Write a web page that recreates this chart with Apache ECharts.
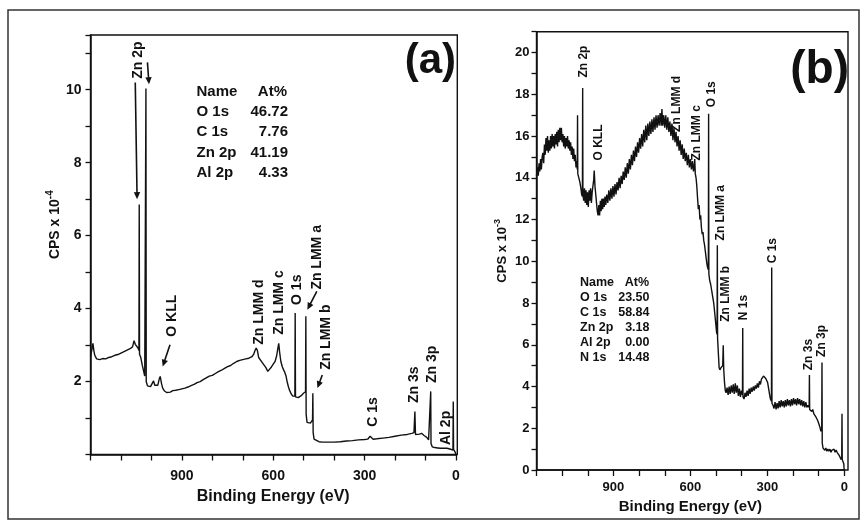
<!DOCTYPE html>
<html>
<head>
<meta charset="utf-8">
<script src="https://cdn.jsdelivr.net/npm/echarts@6/dist/echarts.min.js"></script>
<style>
html, body { margin: 0; padding: 0; background: #fff; }
#main { width: 865px; height: 524px; }
</style>
</head>
<body>
<div id="main"></div>
<script>
const FONT = "'Liberation Sans Narrow', 'Liberation Sans', Arial, sans-serif";
const INK = '#111';

// Spectrum (a): [binding energy eV, CPS x 1e-4]
const specA = [
	[1200, 2.70], [1196, 2.85], [1192, 3.05], [1189, 2.85], [1186, 2.72], [1180, 2.62], [1170, 2.60], [1160, 2.63],
	[1150, 2.62], [1140, 2.66], [1130, 2.68], [1120, 2.72], [1110, 2.74], [1100, 2.78], [1090, 2.82], [1080, 2.86],
	[1070, 2.90], [1062, 2.95], [1057, 3.12], [1053, 3.02], [1048, 3.00], [1044, 2.92], [1041, 2.85], [1040, 6.85],
	[1039, 2.75], [1035, 2.66], [1030, 2.45], [1026, 2.30], [1022, 2.15], [1019, 2.10], [1018, 10.03], [1017, 2.0],
	[1013, 1.88], [1008, 1.85], [1003, 1.86], [998, 1.85], [993, 2.02], [989, 1.90], [984, 1.86], [979, 1.90],
	[974, 2.08], [971, 2.14], [967, 1.95], [963, 1.82], [957, 1.74], [950, 1.70], [944, 1.73], [938, 1.71],
	[930, 1.75], [920, 1.76], [910, 1.78], [900, 1.80], [890, 1.82], [880, 1.85], [870, 1.89], [860, 1.92],
	[850, 1.97], [840, 2.00], [830, 2.05], [820, 2.10], [810, 2.15], [800, 2.17], [790, 2.22], [780, 2.27],
	[770, 2.31], [760, 2.36], [750, 2.41], [740, 2.44], [730, 2.50], [720, 2.55], [710, 2.58], [700, 2.60],
	[690, 2.62], [680, 2.64], [670, 2.68], [664, 2.75], [660, 2.85], [656, 2.92], [652, 2.85], [648, 2.66],
	[642, 2.62], [636, 2.52], [630, 2.48], [624, 2.38], [618, 2.28], [612, 2.32], [606, 2.40], [600, 2.45],
	[594, 2.55], [589, 2.70], [585, 2.90], [582, 3.05], [579, 2.80], [575, 2.55], [570, 2.40], [566, 2.32],
	[562, 2.25], [558, 2.15], [554, 1.98], [550, 1.85], [546, 1.75], [541, 1.66], [536, 1.60], [531, 1.58],
	[529, 1.60], [528, 3.88], [527, 1.58], [523, 1.57], [518, 1.56], [512, 1.60], [507, 1.62], [501, 1.68],
	[496, 1.70], [494, 1.72], [493, 3.79], [492, 1.10], [489, 0.88], [484, 0.86], [478, 0.86], [472, 0.87],
	[471, 0.95], [470, 1.68], [469, 0.60], [466, 0.42], [460, 0.37], [450, 0.35], [440, 0.34], [420, 0.34],
	[400, 0.34], [380, 0.35], [360, 0.37], [340, 0.38], [320, 0.40], [300, 0.41], [290, 0.42], [285, 0.45],
	[282, 0.50], [279, 0.45], [272, 0.42], [260, 0.43], [240, 0.45], [220, 0.47], [200, 0.50], [180, 0.53],
	[160, 0.55], [145, 0.58], [138, 0.60], [135, 1.18], [133, 0.55], [128, 0.54], [120, 0.56], [113, 0.58],
	[105, 0.52], [96, 0.47], [90, 0.40], [84, 0.40], [83, 1.73], [82, 0.30], [78, 0.21], [70, 0.19],
	[60, 0.18], [50, 0.17], [40, 0.17], [30, 0.17], [20, 0.15], [14, 0.10], [10, 0.12], [9, 1.45],
	[8, 0.14], [5, 0.12], [2, 0.05], [0, 0.0]
];

// Spectrum (b): [binding energy eV, CPS x 1e-3]
const specB = [
	[1200, 14.1], [1196, 14.5], [1193, 14.1], [1190, 14.7], [1187, 14.3], [1184, 14.9], [1181, 14.4], [1178, 15.0],
	[1175, 15.2], [1172, 14.7], [1169, 15.6], [1166, 15.1], [1163, 15.9], [1160, 15.3], [1157, 16.0], [1154, 15.2],
	[1151, 15.8], [1148, 15.3], [1145, 16.0], [1142, 15.4], [1139, 16.1], [1136, 15.5], [1133, 16.0], [1130, 15.4],
	[1127, 16.1], [1124, 15.6], [1121, 16.2], [1118, 15.5], [1115, 16.3], [1112, 15.7], [1109, 16.4], [1106, 15.8],
	[1103, 16.4], [1100, 15.7], [1097, 16.1], [1094, 15.5], [1091, 16.0], [1088, 15.4], [1085, 15.9], [1082, 15.5],
	[1079, 16.0], [1076, 15.4], [1073, 15.8], [1070, 15.3], [1067, 15.7], [1064, 15.1], [1061, 15.5], [1058, 14.9],
	[1055, 15.4], [1052, 14.8], [1049, 15.1], [1046, 14.5], [1043, 14.8], [1041, 14.4], [1040, 17.0], [1039, 14.2],
	[1035, 14.0], [1031, 13.8], [1027, 13.5], [1024, 13.2], [1021, 13.1], [1020, 18.3], [1019, 13.2], [1016, 12.9],
	[1013, 13.5], [1010, 12.8], [1007, 13.4], [1004, 12.7], [1001, 13.3], [998, 12.6], [995, 13.4], [992, 12.9],
	[989, 13.5], [986, 12.8], [983, 13.3], [980, 13.6], [977, 13.9], [975, 14.35], [972, 13.6], [969, 13.2],
	[966, 12.8], [963, 12.4], [960, 12.2], [957, 12.7], [954, 12.2], [951, 12.9], [948, 12.4], [945, 13.0],
	[942, 12.5], [939, 13.0], [936, 12.6], [933, 13.1], [930, 12.7], [926, 13.2], [922, 12.8], [918, 13.4],
	[914, 12.9], [910, 13.5], [906, 13.0], [902, 13.6], [898, 13.1], [894, 13.7], [890, 13.2], [886, 13.8],
	[882, 13.4], [878, 14.0], [874, 13.5], [870, 14.1], [866, 13.7], [862, 14.3], [858, 13.9], [854, 14.5],
	[850, 14.0], [846, 14.7], [842, 14.2], [838, 14.9], [834, 14.4], [830, 15.1], [826, 14.6], [822, 15.3],
	[818, 14.8], [814, 15.5], [810, 15.0], [806, 15.7], [802, 15.2], [798, 15.9], [794, 15.4], [790, 16.1],
	[786, 15.5], [782, 16.3], [778, 15.7], [774, 16.5], [770, 15.8], [766, 16.6], [762, 16.0], [758, 16.7],
	[754, 16.1], [750, 16.8], [746, 16.2], [742, 16.9], [738, 16.3], [734, 17.0], [730, 16.4], [726, 17.0],
	[722, 16.5], [718, 17.1], [714, 16.5], [711, 17.3], [708, 16.5], [704, 17.0], [700, 16.4], [696, 17.0],
	[692, 16.3], [688, 16.9], [684, 16.2], [680, 16.7], [676, 16.0], [672, 16.6], [668, 15.8], [664, 16.4],
	[660, 15.7], [656, 16.2], [652, 15.5], [648, 16.0], [644, 15.3], [640, 15.8], [636, 15.1], [632, 15.6],
	[628, 14.9], [624, 15.4], [620, 14.8], [616, 15.2], [612, 14.6], [608, 15.1], [604, 14.5], [600, 14.9],
	[596, 14.4], [592, 14.8], [588, 14.3], [585, 14.6], [583, 14.9], [581, 14.2], [578, 14.0], [575, 13.6],
	[572, 13.0], [569, 12.5], [566, 12.7], [563, 12.0], [560, 12.2], [557, 11.6], [554, 11.3], [551, 11.4],
	[548, 11.0], [545, 10.8], [542, 10.5], [539, 10.2], [536, 9.9], [533, 9.7], [530, 9.6], [529, 17.07],
	[528, 9.4], [525, 9.1], [521, 8.9], [517, 8.6], [513, 8.3], [509, 8.0], [505, 7.5], [501, 7.0],
	[498, 6.6], [496, 6.5], [495, 10.77], [494, 6.3], [491, 5.6], [488, 4.9], [485, 4.8], [481, 4.9],
	[477, 4.95], [474, 5.0], [472, 5.98], [470, 4.8], [467, 4.2], [464, 3.8], [461, 3.7], [457, 3.95],
	[453, 3.6], [449, 4.0], [445, 3.65], [441, 4.05], [437, 3.7], [433, 4.1], [429, 3.65], [425, 4.15],
	[421, 3.7], [417, 4.05], [413, 3.55], [409, 3.9], [405, 3.5], [401, 3.8], [397, 3.6], [396, 6.8],
	[395, 3.5], [391, 3.4], [387, 3.7], [383, 3.5], [379, 3.8], [375, 3.55], [371, 3.9], [367, 3.65],
	[363, 3.95], [359, 3.75], [355, 4.0], [351, 3.8], [347, 4.05], [343, 3.9], [339, 4.15], [335, 3.95],
	[331, 4.25], [327, 4.1], [323, 4.35], [319, 4.3], [315, 4.5], [311, 4.5], [307, 4.4], [303, 4.3],
	[299, 4.2], [295, 3.9], [291, 3.6], [288, 3.4], [284, 3.3], [283, 9.7], [282, 3.2], [278, 3.1],
	[274, 2.95], [270, 3.25], [266, 2.9], [262, 3.2], [258, 2.95], [254, 3.3], [250, 3.0], [246, 3.35],
	[242, 3.05], [238, 3.3], [234, 3.0], [230, 3.35], [226, 3.05], [222, 3.4], [218, 3.1], [214, 3.35],
	[210, 3.05], [206, 3.4], [202, 3.1], [198, 3.45], [194, 3.15], [190, 3.4], [186, 3.1], [182, 3.45],
	[178, 3.15], [174, 3.4], [170, 3.1], [166, 3.35], [162, 3.05], [158, 3.3], [154, 3.0], [150, 3.25],
	[146, 3.0], [142, 3.1], [137, 3.0], [136, 4.55], [135, 2.9], [131, 2.95], [127, 2.8], [123, 2.9],
	[119, 2.7], [115, 2.75], [111, 2.55], [107, 2.6], [103, 2.35], [99, 2.2], [95, 2.05], [91, 1.85],
	[88, 2.0], [87, 5.15], [86, 1.3], [83, 1.05], [80, 1.0], [76, 0.95], [72, 1.05], [68, 0.9],
	[64, 1.0], [60, 0.9], [56, 1.0], [52, 0.85], [48, 0.95], [44, 0.9], [40, 1.0], [36, 0.85],
	[32, 0.95], [28, 0.85], [24, 0.9], [20, 0.7], [16, 0.6], [13, 0.5], [11, 0.45], [10, 0.6],
	[9, 2.7], [8, 0.5], [5, 0.4], [2, 0.3], [1, 0.1], [0, 0.0]
];

// Peak labels: [text, energy, value at text bottom]
const peaksA = [
	['Zn 2p', 1045, 10.3], ['O KLL', 933, 3.23], ['Zn LMM d', 646, 3.01], ['Zn LMM c', 581, 3.28],
	['O 1s', 520, 4.1], ['Zn LMM a', 457, 4.52], ['Zn LMM b', 427, 2.32], ['C 1s', 271, 0.76],
	['Zn 3s', 138, 1.41], ['Zn 3p', 77, 1.96], ['Al 2p', 33, 0.26]
];
const peaksB = [
	['Zn 2p', 1016, 18.8], ['O KLL', 958, 14.83], ['Zn LMM d', 653, 16.2], ['Zn LMM c', 575, 14.83],
	['O 1s', 517, 17.38], ['Zn LMM a', 481, 11.0], ['Zn LMM b', 463, 7.1], ['N 1s', 391, 7.18],
	['C 1s', 280, 9.9], ['Zn 3s', 140, 4.78], ['Zn 3p', 88, 5.42]
];
// Arrows in panel (a): [fromE, fromV, toE, toV]
const arrowsA = [
	[1053, 10.2, 1047, 7.0], [1013, 10.75, 1008, 10.15], [939, 3.01, 963, 2.41],
	[457, 4.47, 488, 3.97], [439, 2.18, 455, 1.82]
];

// Composition tables
const tableNamesA = ['O 1s', 'C 1s', 'Zn 2p', 'Al 2p'];
const tableValuesA = ['46.72', '7.76', '41.19', '4.33'];
const tableNamesB = ['O 1s', 'C 1s', 'Zn 2p', 'Al 2p', 'N 1s'];
const tableValuesB = ['23.50', '58.84', '3.18', '0.00', '14.48'];

const yLabelsA = [2, 4, 6, 8, 10];

const chart = echarts.init(document.getElementById('main'), null, { renderer: 'canvas' });

function energyAxis(gridIndex, labelSize, nameSize, nameGap, margin) {
	return {
		gridIndex: gridIndex, type: 'value', inverse: true, min: 0, max: 1200, interval: 100, position: 'bottom',
		axisLine: { show: true, onZero: false, lineStyle: { color: INK, width: 1.5 } },
		axisTick: { show: true, length: 6, lineStyle: { color: INK, width: 1.3 } },
		axisLabel: {
			show: true, color: INK, fontFamily: FONT, fontWeight: 'bold', fontSize: labelSize, margin: margin,
			formatter: function (v) { return v % 300 === 0 && v < 1200 ? String(v) : ''; }
		},
		splitLine: { show: false },
		name: 'Binding Energy (eV)', nameLocation: 'middle', nameGap: nameGap,
		nameTextStyle: { color: INK, fontFamily: FONT, fontWeight: 'bold', fontSize: nameSize }
	};
}

function cpsAxis(gridIndex, max, labelSize, margin, labelOpt) {
	return {
		gridIndex: gridIndex, type: 'value', min: 0, max: max, interval: 1, position: 'left',
		axisLine: { show: true, onZero: false, lineStyle: { color: INK, width: 1.5 } },
		axisTick: { show: true, length: 5, lineStyle: { color: INK, width: 1.3 } },
		axisLabel: Object.assign({ color: INK, fontFamily: FONT, fontWeight: 'bold', fontSize: labelSize, margin: margin }, labelOpt),
		splitLine: { show: false }
	};
}

const option = {
	animation: false,
	backgroundColor: '#fff',
	grid: [
		{ left: 90.5, top: 35, width: 365.5, height: 419.5 },
		{ left: 536.5, top: 31.7, width: 307.8, height: 438.3 }
	],
	xAxis: [energyAxis(0, 14, 16, 33, 15), energyAxis(1, 13, 15, 26, 11)],
	yAxis: [
		cpsAxis(0, 11.5, 14, 9, { customValues: yLabelsA }),
		cpsAxis(1, 21, 13, 7, { formatter: function (v) { return v % 2 === 0 && v <= 20 ? String(v) : ''; } })
	],
	series: [
		{
			name: 'a', type: 'line', xAxisIndex: 0, yAxisIndex: 0, data: specA,
			symbol: 'none', lineStyle: { color: INK, width: 1.4 }
		},
		{
			name: 'b', type: 'line', xAxisIndex: 1, yAxisIndex: 1, data: specB,
			symbol: 'none', lineStyle: { color: INK, width: 1.4 }
		}
	]
};
chart.setOption(option);

// Annotations placed through the chart's own coordinate conversion
const graphics = [];
function px(seriesIndex, e, v) {
	return chart.convertToPixel({ seriesIndex: seriesIndex }, [e, v]);
}
function vText(p, text, size) {
	graphics.push({
		type: 'text', x: p[0], y: p[1], rotation: Math.PI / 2,
		style: {
			text: text, fill: INK, font: 'bold ' + size + 'px ' + FONT,
			textAlign: 'left', textVerticalAlign: 'middle', align: 'left', verticalAlign: 'middle'
		}
	});
}
function hText(x, y, text, size, align, family) {
	graphics.push({
		type: 'text', x: x, y: y,
		style: {
			text: text, fill: INK, font: 'bold ' + size + 'px ' + (family || FONT),
			textAlign: align, textVerticalAlign: 'middle', align: align, verticalAlign: 'middle'
		}
	});
}
// Y axis titles with superscript exponent
function yTitle(p, exp, size) {
	graphics.push({
		type: 'text', x: p[0], y: p[1], rotation: Math.PI / 2,
		style: {
			text: '{b|CPS x 10}{s|' + exp + '}',
			align: 'center', verticalAlign: 'middle', textAlign: 'center', textVerticalAlign: 'middle',
			rich: {
				b: { fill: INK, font: 'bold ' + size + 'px ' + FONT },
				s: { fill: INK, font: 'bold ' + (size - 4) + 'px ' + FONT, padding: [0, 0, 9, 0] }
			}
		}
	});
}
// Plot frames: box around each panel, a little past 0 eV on the right
function frame(seriesIndex, ymax, extra) {
	const tl = px(seriesIndex, 1200, ymax);
	const br = px(seriesIndex, 0, 0);
	graphics.push({
		type: 'rect', silent: true,
		shape: { x: tl[0], y: tl[1], width: br[0] - tl[0] + extra, height: br[1] - tl[1] },
		style: { fill: 'none', stroke: INK, lineWidth: 1.4 }
	});
}
frame(0, 11.5, 1.3);
frame(1, 21, 3.7);

const ta = px(0, 1200, 6.3);
yTitle([ta[0] - 35.5, ta[1]], '-4', 14);
const tb = px(1, 1200, 10.5);
yTitle([tb[0] - 34.5, tb[1]], '-3', 13);

peaksA.forEach(function (p) { vText(px(0, p[1], p[2]), p[0], 14); });
peaksB.forEach(function (p) { vText(px(1, p[1], p[2]), p[0], 12); });

arrowsA.forEach(function (a) {
	const s = px(0, a[0], a[1]);
	const t = px(0, a[2], a[3]);
	const dx = t[0] - s[0], dy = t[1] - s[1];
	const len = Math.sqrt(dx * dx + dy * dy);
	const ux = dx / len, uy = dy / len;
	const hl = 7, hw = 3.2;
	graphics.push({
		type: 'line', shape: { x1: s[0], y1: s[1], x2: t[0] - ux * hl * 0.6, y2: t[1] - uy * hl * 0.6 },
		style: { stroke: INK, lineWidth: 1.6 }
	});
	graphics.push({
		type: 'polygon',
		shape: { points: [[t[0], t[1]], [t[0] - ux * hl - uy * hw, t[1] - uy * hl + ux * hw], [t[0] - ux * hl + uy * hw, t[1] - uy * hl - ux * hw]] },
		style: { fill: INK }
	});
});

// Composition tables
hText(196.5, 92, 'Name', 15, 'left');
hText(287, 92, 'At%', 15, 'right');
tableNamesA.forEach(function (n, i) {
	hText(196.5, 112 + i * 20.3, n, 15, 'left');
	hText(288, 112 + i * 20.3, tableValuesA[i], 15, 'right');
});
hText(580, 283, 'Name', 12.5, 'left');
hText(649, 283, 'At%', 12.5, 'right');
tableNamesB.forEach(function (n, i) {
	hText(580, 298 + i * 15, n, 12.5, 'left');
	hText(649.5, 298 + i * 15, tableValuesB[i], 12.5, 'right');
});

// Panel letters
hText(456, 61, '(a)', 42, 'right', "'Liberation Sans', Arial, sans-serif");
hText(849, 70, '(b)', 46, 'right', "'Liberation Sans', Arial, sans-serif");

// Outer frame
graphics.push({
	type: 'rect', shape: { x: 8, y: 10, width: 851, height: 509 },
	style: { fill: 'none', stroke: '#333', lineWidth: 1.5 }, silent: true
});

chart.setOption({ graphic: graphics });
window.onresize = chart.resize;
</script>
</body>
</html>
